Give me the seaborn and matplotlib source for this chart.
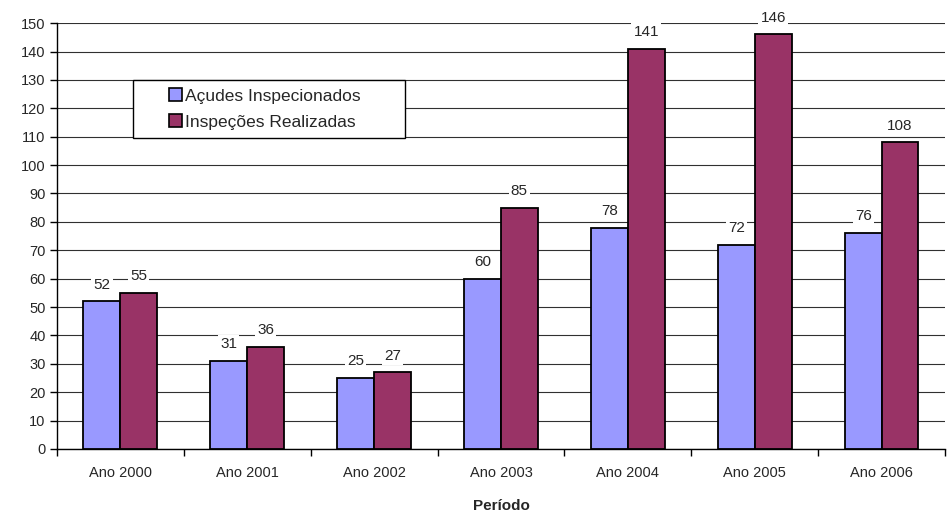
import matplotlib
matplotlib.use("Agg")
import matplotlib.pyplot as plt
from matplotlib.patches import Rectangle
import seaborn as sns
import pandas as pd
import numpy as np

periodos = ["Ano 2000", "Ano 2001", "Ano 2002", "Ano 2003", "Ano 2004", "Ano 2005", "Ano 2006"]
acudes_inspecionados = [52, 31, 25, 60, 78, 72, 76]
inspecoes_realizadas = [55, 36, 27, 85, 141, 146, 108]
series = ["Açudes Inspecionados", "Inspeções Realizadas"]
cores = ["#9999FF", "#993366"]

df = pd.DataFrame({
    "Período": periodos * 2,
    "Valor": acudes_inspecionados + inspecoes_realizadas,
    "Série": [series[0]] * len(periodos) + [series[1]] * len(periodos),
})

sns.set_style("white")
plt.rcParams["font.family"] = ["Liberation Sans", "DejaVu Sans"]

fig = plt.figure(figsize=(9.47, 5.14), dpi=100)
ax = fig.add_axes([0.060, 0.1265, 0.938, 0.8285])

sns.barplot(data=df, x="Período", y="Valor", hue="Série", palette=cores,
            width=0.58, edgecolor="black", linewidth=1.3, ax=ax, zorder=3,
            saturation=1)

ax.set_ylim(0, 150)
ax.set_xlim(-0.5, len(periodos) - 0.5)
ax.set_yticks(np.arange(0, 151, 10))
ax.yaxis.grid(True, color="#303030", linewidth=0.8, zorder=0)
ax.set_axisbelow(True)

for s in ["top", "right"]:
    ax.spines[s].set_visible(False)
for s in ["left", "bottom"]:
    ax.spines[s].set_color("black")
    ax.spines[s].set_linewidth(1.0)

ax.tick_params(axis="y", direction="out", length=5, width=1, color="black",
               labelsize=10.5, pad=3, left=True)
ax.tick_params(axis="x", which="major", length=0, labelsize=10.5, pad=12)
ax.set_xticks(np.arange(-0.5, len(periodos), 1), minor=True)
ax.tick_params(axis="x", which="minor", direction="out", length=5, width=1,
               color="black", bottom=True)

ax.set_xlabel("Período", fontsize=11, fontweight="bold", labelpad=14)
ax.set_ylabel("")

for cont in ax.containers:
    ax.bar_label(cont, padding=7, fontsize=11,
                 bbox=dict(facecolor="white", edgecolor="none", pad=1.5))

# legend box drawn as a separate frame, entries placed inside it
caixa = Rectangle((133 / 947, 1 - 138 / 514), 272 / 947, 58 / 514,
                  transform=fig.transFigure, facecolor="white",
                  edgecolor="black", linewidth=1.0, zorder=5)
fig.patches.append(caixa)

handles, labels = ax.get_legend_handles_labels()
ax.get_legend().remove()
leg = fig.legend(handles, labels, loc="center left",
                 bbox_to_anchor=(169 / 947, 1 - 109 / 514),
                 bbox_transform=fig.transFigure, frameon=False,
                 prop={"size": 12.5},
                 handlelength=0.75, handleheight=0.75, handletextpad=0.2,
                 borderpad=0, labelspacing=0.6, borderaxespad=0)
leg.set_zorder(6)
for h in leg.legend_handles:
    h.set_edgecolor("black")
    h.set_linewidth(1.2)

fig.savefig("out.png", dpi=100)
